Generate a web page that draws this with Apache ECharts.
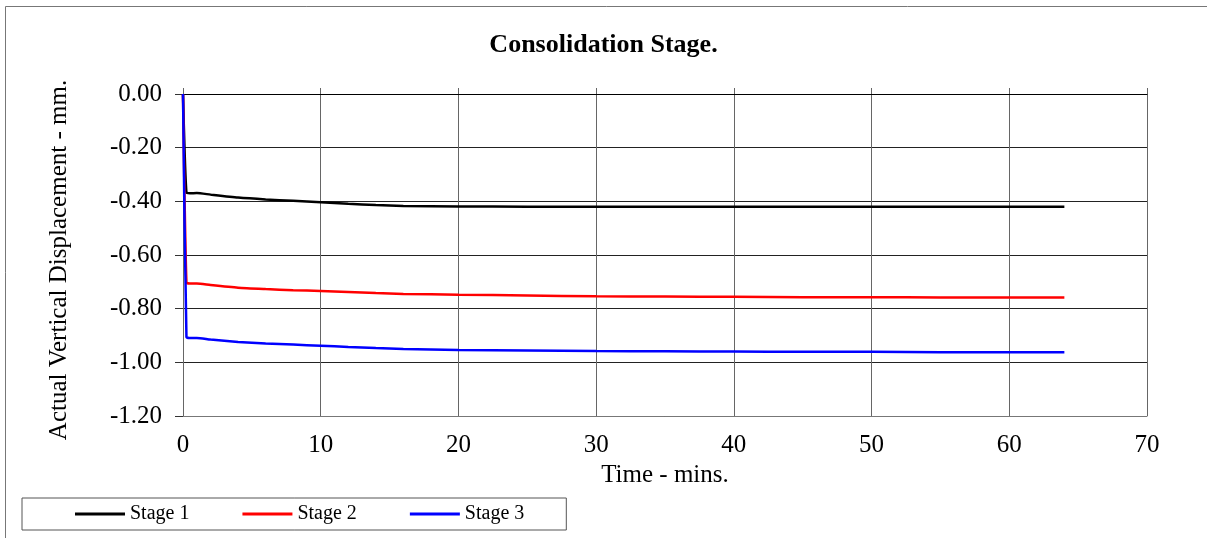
<!DOCTYPE html>
<html>
<head>
<meta charset="utf-8">
<script src="https://cdn.jsdelivr.net/npm/echarts@6/dist/echarts.min.js"></script>
<style>
  html, body { margin: 0; padding: 0; background: #fff; }
  #chart { width: 1207px; height: 538px; }
</style>
</head>
<body>
<div id="chart"></div>
<script>
// time readings (mins) shared by all three stages
const times = [0, 0.25, 0.5, 1, 2, 4, 6, 8, 10, 12, 14, 16, 20, 25, 30, 35, 40, 45, 50, 55, 60, 64]
const stage1 = [0, -0.368, -0.370, -0.369, -0.375, -0.386, -0.393, -0.398, -0.403, -0.409, -0.414, -0.417, -0.419, -0.420, -0.420, -0.420, -0.420, -0.420, -0.420, -0.420, -0.420, -0.420]
const stage2 = [0, -0.703, -0.706, -0.706, -0.712, -0.722, -0.727, -0.731, -0.734, -0.738, -0.742, -0.745, -0.748, -0.751, -0.754, -0.755, -0.756, -0.757, -0.757, -0.758, -0.758, -0.758]
const stage3 = [0, -0.905, -0.909, -0.909, -0.915, -0.924, -0.930, -0.934, -0.938, -0.943, -0.947, -0.950, -0.954, -0.956, -0.958, -0.959, -0.960, -0.961, -0.961, -0.962, -0.962, -0.962]
const stageNames = ['Stage 1', 'Stage 2', 'Stage 3']
const stageColors = ['#000000', '#ff0000', '#0000ff']

const font = '"Liberation Serif", "Times New Roman", serif'

function pairs(vals) {
  return times.map((t, i) => [t, vals[i]])
}

const chart = echarts.init(document.getElementById('chart'))
chart.setOption({
  animation: false,
  textStyle: { fontFamily: font, color: '#000' },
  title: {
    text: 'Consolidation Stage.',
    left: 'center',
    top: 32,
    padding: 0,
    textStyle: { fontFamily: font, fontSize: 26, fontWeight: 'bold', color: '#000' }
  },
  graphic: [
    {
      type: 'rect',
      shape: { x: 5.5, y: 6.5, width: 1210, height: 540 },
      style: { fill: 'none', stroke: '#777', lineWidth: 1 },
      silent: true
    }
  ],
  legend: {
    left: 22,
    top: 498,
    orient: 'horizontal',
    icon: 'rect',
    itemWidth: 50,
    itemHeight: 3,
    itemGap: 53,
    padding: [6, 42, 6, 53],
    borderColor: '#555',
    borderWidth: 1,
    textStyle: { fontFamily: font, fontSize: 20, color: '#000' },
    data: stageNames
  },
  grid: {
    left: 183,
    right: 60,
    top: 94,
    bottom: 122
  },
  xAxis: [
    {
      type: 'value',
      min: 0,
      max: 70,
      interval: 10,
      position: 'bottom',
      name: 'Time - mins.',
      nameLocation: 'middle',
      nameGap: 40,
      nameTextStyle: { fontFamily: font, fontSize: 25, color: '#000' },
      axisLine: { show: true, onZero: false, lineStyle: { color: '#777' } },
      axisTick: { show: false },
      axisLabel: { margin: 17, fontFamily: font, fontSize: 25, color: '#000' },
      splitLine: { show: true, lineStyle: { color: '#666', width: 1 } }
    },
    {
      type: 'value',
      min: 0,
      max: 70,
      interval: 10,
      position: 'top',
      axisLine: { show: true, onZero: false, lineStyle: { color: '#000' } },
      axisTick: { show: true, length: 6, lineStyle: { color: '#666' } },
      axisLabel: { show: false },
      splitLine: { show: false }
    }
  ],
  yAxis: {
    type: 'value',
    min: -1.2,
    max: 0,
    interval: 0.2,
    name: 'Actual Vertical Displacement - mm.',
    nameLocation: 'middle',
    nameGap: 111,
    nameTextStyle: { fontFamily: font, fontSize: 25, color: '#000', padding: [0, 10, 0, 0] },
    axisLine: { show: true, onZero: false, lineStyle: { color: '#666' } },
    axisTick: { show: true, length: 8, lineStyle: { color: '#333' } },
    axisLabel: {
      margin: 21,
      fontFamily: font,
      fontSize: 25,
      color: '#000',
      formatter: v => v.toFixed(2)
    },
    splitLine: { show: true, lineStyle: { color: '#222', width: 1 } }
  },
  series: [stage1, stage2, stage3].map((vals, i) => ({
    name: stageNames[i],
    type: 'line',
    xAxisIndex: 0,
    data: pairs(vals),
    symbol: 'none',
    smooth: 0.2,
    color: stageColors[i],
    lineStyle: { color: stageColors[i], width: 2.5 }
  }))
})
</script>
</body>
</html>
